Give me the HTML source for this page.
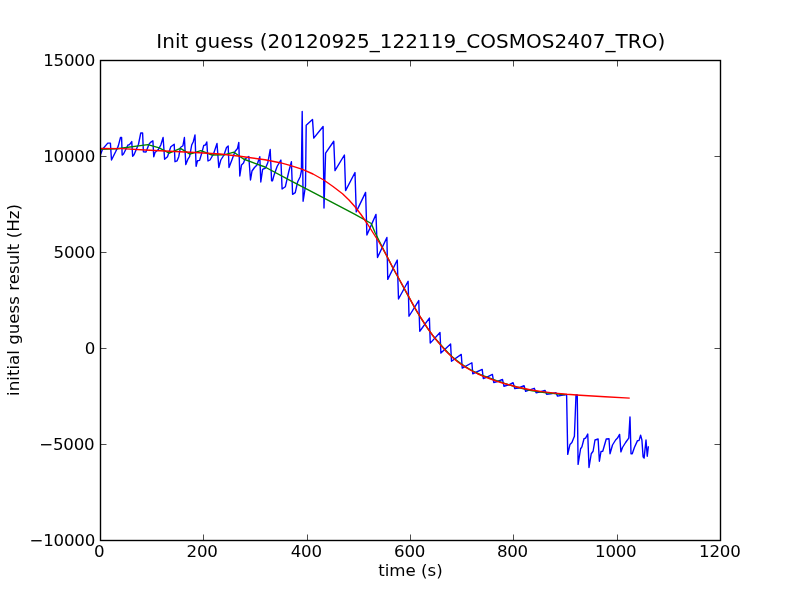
<!DOCTYPE html>
<html><head><meta charset="utf-8"><title>Init guess</title>
<style>
html,body{margin:0;padding:0;background:#fff;}
svg{display:block;will-change:transform;}
text{font-family:"DejaVu Sans","Liberation Sans",sans-serif;fill:#000;}
</style></head><body>
<svg width="800" height="600" viewBox="0 0 800 600">
<rect width="800" height="600" fill="#fff"/>
<defs><clipPath id="c"><rect x="100" y="60" width="620" height="480"/></clipPath></defs>
<g clip-path="url(#c)">
<polyline points="100.6,154.5 102.5,149.2 107.75,143.1 110.4,143.1 111.5,160 115.6,151.75 118.25,146.1 120.5,137.5 121.6,137.5 122.15,155.1 123.5,154 128,145 129.5,144.6 131.75,141.6 132.65,156.25 134,154.75 138.5,144.25 140.75,133 142.6,133 143.4,151.75 146,152.1 149,144.25 150.5,142.4 152.9,140.8 153.75,156.7 155,152.5 158.3,149.6 160.8,145 163.1,137.5 164.6,159.2 167.5,156.7 170.8,146.7 174.2,144.2 175,161.7 177.1,160.8 178.75,156.7 180.4,147.5 182.9,145.8 184.4,137.5 185.8,164.6 187.9,159.2 189.6,156.7 191.7,145 193.3,141.7 195,135 196.1,166.25 197.5,160.8 199.6,160.4 201.7,153.3 203.75,145.4 205.4,145 206.8,142 208,161 210,160 213.5,154 215,149.5 217,143.5 218.8,167.5 220.8,160 224,155 226.5,147.5 228.2,146 229,167.5 231.5,161 235,151.5 237.5,148.5 238.8,142.5 239.8,176 241.5,165 243.5,163 245,159 248.8,156.5 250.5,180 252,171 254.5,167.5 257,165 259.8,156.7 260.8,182 262.6,169.3 265.5,168 267.8,162.75 270.2,149.5 271.6,180.8 272.5,180.8 274.25,174.4 277.2,166.25 280.9,160 282.1,189 285.3,186.8 288.8,171.5 291.4,161.7 292.6,194.3 295.25,192.6 297.6,182 300.2,176.7 301.4,171 302.2,111.5 303.1,201.25 305.5,186 306.2,125.3 312.5,119.4 313.75,138.1 323.1,126.5 324,208.1 325.6,153.1 333.75,141.25 335,170.6 344.4,155 345.6,190.6 355,172.5 356.25,211.9 365.6,192.4 366.9,235 376,214.4 377.5,257.5 386.9,237.5 387.75,279.4 397.25,260 398.5,299 408.1,281.25 409,316.25 418.75,300.6 419.75,331.25 429.4,318.1 430.25,343.1 440,332.5 440.9,353.1 450.6,344 451.5,361.25 461.25,354.4 462.25,368.1 471.9,362.75 472.75,373.75 482.2,369.4 483.3,378.5 487,377.2 492.4,374.4 493.75,382.5 497.5,381.5 502.5,379.4 504,386.25 508,385.2 513.1,382.75 514.75,388.5 518.5,388 524.1,385.7 525.6,391.25 529,390.2 534.25,388.3 536.1,392.75 539.5,392 545.1,390.5 546.6,394.25 550.75,393.9 556,392.75 557.5,396.1 563.1,395 566.6,394.6 567.75,454.4 570,444.4 571.9,442.5 574.4,436.25 576,395 577.25,395 578.1,464.4 580.6,448.75 581.9,446.9 584,438.75 585.6,438.1 587.75,434 589,467.5 591.25,453.75 593.1,451.25 595,440 598.1,439 599.4,461.25 601,451.5 602.75,451.25 606.25,439 609,438.75 610,453.75 612.5,445 615.6,440 617.5,438.1 619.6,434.4 620.9,451.9 622.5,447.5 625.6,442.5 628.75,438.1 630,416.9 631,453.75 632.25,453.75 634.4,447.5 637.5,440.6 639,440.6 640.6,435.25 641.9,440 643.1,456.9 644.1,458.1 646,440 647.25,456.25 648.4,446.25" fill="none" stroke="#0000ff" stroke-width="1.39" stroke-linejoin="round" stroke-linecap="butt"/>
<polyline points="100,149.3 117,148.7 147.9,144.6 159.2,147.9 169.2,153.2 180.4,148.3 190,154.2 200.8,150.7 212,155 224,154.8 234,152.2 243.5,159 255,163.3 265,167 290,180.3 315,193.4 355,214.4 371.25,223.5 375,232.5 383.75,250 392.5,267.25 396.5,274.52 400.5,281.78 404.5,289.07 408.5,296.40 412.5,303.74 416.5,310.79 420.5,317.39 424.5,323.65 428.5,329.70 432.5,335.15 436.5,339.97 440.5,344.56 444.5,349.07 448.5,353.18 452.5,357.00 456.5,360.33 460.5,363.35 464.5,366.06 468.5,368.50 472.5,370.75 476.5,372.75 480.5,374.57 484.5,376.26 488.5,377.71 492.5,379.16 496.5,380.62 500.5,381.96 504.5,383.31 508.5,384.55 512.5,385.76 516.5,386.96 520.5,387.96 524.5,388.97 528.5,389.97 532.5,390.74 536.5,391.35 540.5,391.97 544.5,392.49 548.5,392.95 552.5,393.41 556.5,393.85 560.5,394.25 564.5,394.65 565,394.70" fill="none" stroke="#008000" stroke-width="1.39" stroke-linejoin="round" stroke-linecap="butt"/>
<polyline points="100,148.5 122,148.6 145,150 170,151.2 195,152.5 220,154 240,156.25 265,159.75 280,162.7 290,165.4 302.5,169.4 313,174 323.75,180 333,186.5 342.5,193.75 349,200 355,206.75 361,214.5 367.5,224 373.5,233.5 380,243.75 386,254.5 392.5,267 403.5,287 415,308.1 421,318 427.5,328.1 433.5,336.5 440,344.4 446,351.3 452.5,357.5 458.5,362.5 465,366.9 471,370.5 477.5,373.75 483.5,376.4 490,378.75 497,381.3 505,383.75 517,387 530,389.75 542,391.6 555,393.1 567,394.3 580,395.25 605,396.8 629.75,398.1" fill="none" stroke="#ff0000" stroke-width="1.39" stroke-linejoin="round" stroke-linecap="butt"/>
</g>
<g stroke="#000" stroke-width="0.7" fill="none">
<path d="M100.5 540.5v-6M100.5 60.5v6"/><path d="M203.5 540.5v-6M203.5 60.5v6"/><path d="M307.5 540.5v-6M307.5 60.5v6"/><path d="M410.5 540.5v-6M410.5 60.5v6"/><path d="M513.5 540.5v-6M513.5 60.5v6"/><path d="M617.5 540.5v-6M617.5 60.5v6"/><path d="M720.5 540.5v-6M720.5 60.5v6"/><path d="M100.5 540.5h6M720.5 540.5h-6"/><path d="M100.5 444.5h6M720.5 444.5h-6"/><path d="M100.5 348.5h6M720.5 348.5h-6"/><path d="M100.5 252.5h6M720.5 252.5h-6"/><path d="M100.5 156.5h6M720.5 156.5h-6"/><path d="M100.5 60.5h6M720.5 60.5h-6"/>
</g>
<rect x="100.5" y="60.5" width="620" height="480" fill="none" stroke="#000" stroke-width="1.39"/>
<g font-size="16.67" class="tk">
<text x="99.20" y="557.2" text-anchor="middle" letter-spacing="-0.25">0</text><text x="202.13" y="557.2" text-anchor="middle" letter-spacing="-0.25">200</text><text x="306.27" y="557.2" text-anchor="middle" letter-spacing="-0.25">400</text><text x="409.60" y="557.2" text-anchor="middle" letter-spacing="-0.25">600</text><text x="512.43" y="557.2" text-anchor="middle" letter-spacing="-0.25">800</text><text x="615.77" y="557.2" text-anchor="middle" letter-spacing="-0.25">1000</text><text x="719.80" y="557.2" text-anchor="middle" letter-spacing="-0.25">1200</text>
<text x="95" y="546.00" text-anchor="end" letter-spacing="-0.25">−10000</text><text x="94.4" y="450.00" text-anchor="end" letter-spacing="-0.25">−5000</text><text x="95" y="354.00" text-anchor="end" letter-spacing="-0.25">0</text><text x="95" y="258.00" text-anchor="end" letter-spacing="-0.25">5000</text><text x="95" y="162.00" text-anchor="end" letter-spacing="-0.25">10000</text><text x="95" y="66.00" text-anchor="end" letter-spacing="-0.25">15000</text>
<text x="410.5" y="576" text-anchor="middle">time (s)</text>
<text transform="translate(18.5,300) rotate(-90)" text-anchor="middle">initial guess result (Hz)</text>
</g>
<text x="410.8" y="48" text-anchor="middle" font-size="20" letter-spacing="0.03">Init guess (20120925_122119_COSMOS2407_TRO)</text>
</svg>
</body></html>
